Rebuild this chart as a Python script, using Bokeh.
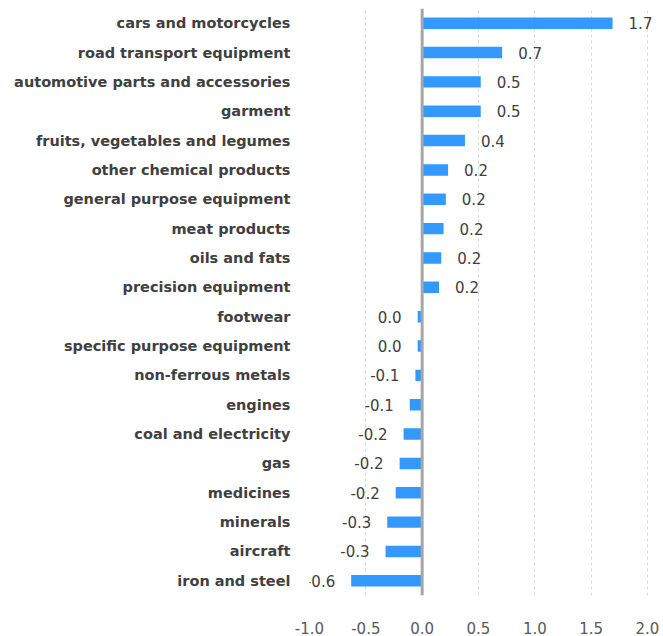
from bokeh.plotting import figure
from bokeh.models import FactorRange, Range1d, FixedTicker, Span, ColumnDataSource
from bokeh.core.properties import value
from bokeh.embed import file_html
from bokeh.resources import INLINE

categories = [
    "cars and motorcycles", "road transport equipment", "automotive parts and accessories",
    "garment", "fruits, vegetables and legumes", "other chemical products",
    "general purpose equipment", "meat products", "oils and fats", "precision equipment",
    "footwear", "specific purpose equipment", "non-ferrous metals", "engines",
    "coal and electricity", "gas", "medicines", "minerals", "aircraft", "iron and steel",
]
values = [1.69, 0.71, 0.52, 0.52, 0.38, 0.23, 0.21, 0.19, 0.17, 0.15,
          -0.04, -0.04, -0.06, -0.11, -0.165, -0.2, -0.235, -0.31, -0.325, -0.63]
value_labels = ["1.7", "0.7", "0.5", "0.5", "0.4", "0.2", "0.2", "0.2", "0.2", "0.2",
                "0.0", "0.0", "-0.1", "-0.1", "-0.2", "-0.2", "-0.2", "-0.3", "-0.3", "-0.6"]
ticks = [-1.0, -0.5, 0.0, 0.5, 1.0, 1.5, 2.0]
tick_labels = ["-1.0", "-0.5", "0.0", "0.5", "1.0", "1.5", "2.0"]

src = ColumnDataSource(dict(
    cat=categories, val=values, lab=value_labels,
    off=[16 if v >= 0 else -16 for v in values],
    align=["left" if v >= 0 else "right" for v in values],
))

# -1.0 .. 2.0 spans 338 px; the frame runs on past 2.0 so "1.7" is not clipped
p = figure(width=663, height=636,
           x_range=Range1d(-1.0, 2.142),
           y_range=FactorRange(*reversed(categories)),
           output_backend="svg", toolbar_location=None,
           min_border_left=309, min_border_right=0, min_border_top=8, min_border_bottom=34)
p.outline_line_color = None
p.background_fill_color = "white"

p.hbar(y="cat", right="val", left=0, height=0.39, source=src,
       fill_color="#3399FF", line_color=None)

p.text(x="val", y="cat", text="lab", x_offset="off", text_align="align", source=src,
       text_baseline="middle", text_font=value("DejaVu Sans"), text_font_size="15px",
       text_color="#404040")

p.add_layout(Span(location=0, dimension="height", line_color="#A6A6A6", line_width=3))

p.ygrid.grid_line_color = None
p.xgrid.ticker = FixedTicker(ticks=ticks)
p.xgrid.grid_line_color = "#D9D9D9"
p.xgrid.grid_line_dash = "3 3"

xa = p.xaxis[0]
xa.ticker = FixedTicker(ticks=ticks)
xa.major_label_overrides = {t: l for t, l in zip(ticks, tick_labels)}
xa.axis_line_color = None
xa.major_tick_line_color = None
xa.minor_tick_line_color = None
xa.major_label_standoff = 20
xa.major_label_text_font = "DejaVu Sans"
xa.major_label_text_font_size = "15px"
xa.major_label_text_color = "#595959"

ya = p.yaxis[0]
ya.axis_line_color = None
ya.major_tick_line_color = None
ya.minor_tick_line_color = None
ya.major_tick_out = 0
ya.major_tick_in = 0
ya.major_label_standoff = 19
ya.major_label_text_font = "DejaVu Sans"
ya.major_label_text_font_style = "bold"
ya.major_label_text_font_size = "14.5px"
ya.major_label_text_color = "#404040"

open("out.html", "w").write(file_html(p, INLINE))
